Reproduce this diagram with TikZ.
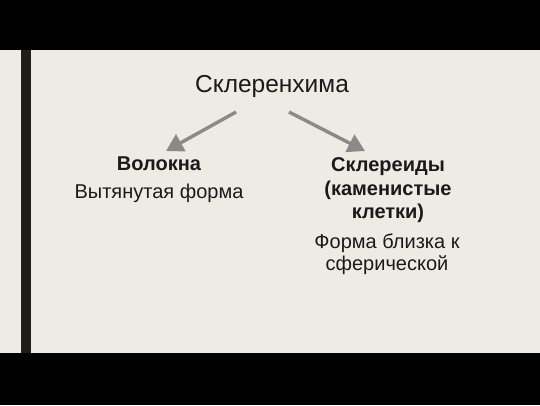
\documentclass[tikz,border=0pt]{standalone}
\usepackage{fontspec}
\setmainfont{Liberation Sans}
\usetikzlibrary{arrows.meta}
\definecolor{slidebg}{HTML}{EEEBE4}
\definecolor{barcol}{HTML}{1E1E14}
\definecolor{arrowgray}{HTML}{8A8A88}
\definecolor{textcol}{HTML}{1A1A1A}
\tikzset{
  txt/.style={anchor=base, inner sep=0pt, text=textcol, font=\fontsize{20}{24}\selectfont},
  ttl/.style={txt, font=\fontsize{24.5}{29}\selectfont},
  hd/.style={txt, font=\fontsize{20}{24}\selectfont\bfseries},
  conn/.style={draw=arrowgray, line width=3.4pt, -{Triangle[length=17pt,width=19pt]}, shorten >=0pt}
}
\begin{document}
\begin{tikzpicture}[x=1pt,y=-1pt]
\useasboundingbox (0,0) rectangle (540,405);
\fill[black] (0,0) rectangle (540,405);
\fill[slidebg] (0,50) rectangle (540,353);
\fill[barcol] (21,50) rectangle (31,353);
\node[ttl] (title) at (272,92) {Склеренхима};
\node[hd] (left) at (159,170) {Волокна};
\node[txt] (leftdesc) at (159,198) {Вытянутая форма};
\node[hd] (right1) at (388,171) {Склереиды};
\node[hd] (right2) at (388,195) {(каменистые};
\node[hd] (right3) at (388,218) {клетки)};
\node[txt] (rdesc1) at (387,248) {Форма близка к};
\node[txt] (rdesc2) at (387,270) {сферической};
\coordinate (ls) at (236,112);
\coordinate (lt) at (166,151);
\coordinate (rs) at (289,112);
\coordinate (rt) at (365,151);
\draw[conn] (ls) -- (lt);
\draw[conn] (rs) -- (rt);
\end{tikzpicture}
\end{document}
